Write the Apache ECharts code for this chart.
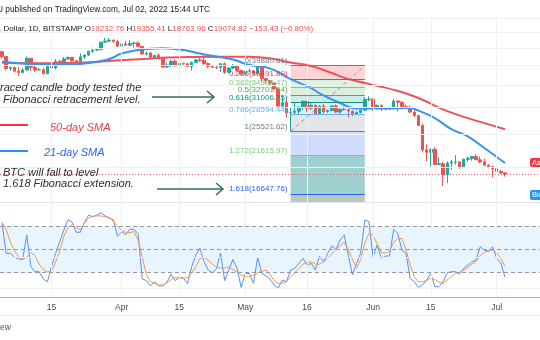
<!DOCTYPE html>
<html><head><meta charset="utf-8">
<script src="https://cdn.jsdelivr.net/npm/echarts@6/dist/echarts.min.js"></script>
<style>html,body{margin:0;padding:0;background:#fff}#c{width:540px;height:340px}</style>
</head><body><div id="c"></div>
<script>
// ---------- data ----------
const startDate = '2022-03-03';
const categoryCount = 131;
const monthTicks = {12:'15',29:'Apr',43:'15',59:'May',74:'16',90:'Jun',104:'15',120:'Jul'};

const opens = [43900,42450,39140,39400,38420,38060,38740,41940,39440,38730,
38810,37790,39670,39290,41120,40920,41760,42220,41260,41000,
42360,42890,43960,44350,44500,46820,47130,47460,47060,45530,
46280,45860,46410,46580,45500,43170,43440,42280,42780,42160,
39530,40070,41150,39940,40550,40400,39700,40800,41500,41370,
40480,39710,39470,39450,40440,38120,39240,39740,38600,37650,
38470,38530,37750,39700,36550,36030,35470,34060,30320,31020,
28940,29030,29280,30100,31300,29860,30430,28720,30310,29200,
29430,30320,29100,29650,29560,29270,28630,29030,29470,31720,
31790,29800,30450,29700,29860,29900,31370,31120,30200,30110,
29090,28420,26560,22490,22130,22580,20380,20470,19000,20560,
20710,20720,19970,21100,21230,21500,21030,20730,20280,20100,
19780,19420,19232.76];
const closes = [42450,39140,39400,38420,38060,38740,41940,39440,38730,38810,
37790,39670,39290,41120,40920,41760,42220,41260,41000,42360,
42890,43960,44350,44500,46820,47130,47460,47060,45530,46280,
45860,46410,46580,45500,43170,43440,42280,42780,42160,39530,
40070,41150,39940,40550,40400,39700,40800,41500,41370,40480,
39710,39470,39450,40440,38120,39240,39740,38600,37650,38470,
38530,37750,39700,36550,36030,35470,34060,30320,31020,28940,
29030,29280,30100,31300,29860,30430,28720,30310,29200,29430,
30320,29100,29650,29560,29270,28630,29030,29470,31720,31790,
29800,30450,29700,29860,29900,31370,31120,30200,30110,29090,
28420,26560,22490,22130,22580,20380,20470,19000,20560,20710,
20720,19970,21100,21230,21500,21030,20730,20280,20100,19780,
19420,19232.76,19074.82];
const highs = [44100,42500,39600,39650,39500,39300,42500,42000,40200,39400,
39300,39900,39850,41700,41450,42300,42400,42300,41500,43350,
43000,44200,45100,44800,46900,48200,48100,47700,47600,46700,
47200,47400,46900,47100,45500,43900,43950,42800,43400,42400,
40700,41550,41550,40850,40700,40600,41000,41700,42200,42900,
40800,39950,39900,40600,40800,39450,40350,39900,38800,38700,
39100,38650,40000,39800,36650,36150,35500,34250,32600,32100,
30000,31000,30300,31400,31300,31000,30700,30500,30700,29600,
30450,30650,29800,30200,29850,29400,29200,29550,32200,32400,
31950,30650,30650,29950,30150,31750,31550,31300,30650,30350,
29450,28550,26900,23350,22700,22950,21350,20750,20800,21000,
21700,20850,21200,21500,21600,21850,21500,21200,20400,20150,
20900,19600,19355.41];
const lows = [41850,38600,38600,38100,37200,37900,38650,38550,38250,38700,
37600,37600,38150,38900,40500,40150,41500,40950,40500,40900,
41800,42600,43600,44100,44400,46700,46950,46600,45300,44300,
45700,45600,45200,45400,43100,42750,42100,42150,41900,39250,
39250,39600,39600,39800,40050,39600,38600,40600,40900,39800,
39200,39300,39000,38200,37750,37900,38900,38200,37600,37400,
38100,37550,37700,35600,35300,34800,33750,30100,29800,28000,
25450,28700,28700,29500,29150,29500,28700,28650,28750,28950,
29250,28900,28650,29350,28050,28300,28500,28800,29300,31250,
29350,29600,29300,29500,29500,29900,29250,29850,29950,28900,
28150,26500,22100,20850,20100,20250,20250,17600,17950,19650,
20350,19800,19900,20750,20900,21000,20550,20200,19850,18650,
19000,19150,18763.96];

// moving averages: [bar index, price]
const sma50 = [[0,40700],[8,40560],[15,40620],[24,41040],[32,41600],[39,42080],[46,42310],[53,42400],[60,42400],[66,41740],[70,40760],[75,39800],[80,37950],[84,36430],[92,34580],[96,33580],[101,32020],[108,29280],[116,27220],[122,25900]];
const sma21 = [[0,40980],[5,40480],[11,40070],[17,40210],[22,40760],[26,41740],[29,43330],[33,44375],[36,44800],[39,44890],[44,44375],[48,43330],[52,42456],[56,41600],[60,40070],[65,39180],[70,36430],[75,34260],[77,33060],[82,30950],[86,29790],[89,29790],[94,29830],[99,29890],[101,29380],[105,27920],[109,25900],[113,24645],[117,22790],[122,20580]];

const stochK = [83.5,45,45,40,37.6,37,68.5,27.7,21.3,21.3,12,8.4,28,45,60,75,88,85,72,72,
85,94,92,94,97,93,90,88,67,72.7,69,75.8,75.8,70,12,10,3,8.4,3,3,
8,18,10,14,13,6,27.7,42.7,51.4,34,23.5,20,25,45,10,23.5,37,25.6,1.2,19,
19,6.4,39.8,19.2,15.8,12,4.2,0,10.6,8.4,23.5,25.6,32,38.5,30,32,23.5,41.5,34,45,
54.3,50,62,68.5,42.7,17,32,45,87.7,85.6,40.6,55.6,38.5,41.5,41.5,75.8,70.6,49,45,12.8,
8.4,1.2,4.2,10.6,19.2,2,2,8.4,20,21.3,21.3,18.3,25.6,30,34,36.3,53.4,49,47,53.4,
38.5,33,14];
const stochD = [85,75,60,48,41,37,40,46,42,31,24,21,22,34,48,67,78,82,78,75,
84,90,92.5,93,93,92,91,86,80,74,72,71.4,73,62,40,18,8.4,6,4.2,4.2,
7,11,14,13,13,14,20,28,38,40,36,31,27,26,26,27.5,24,21,17,15,
15,17,20,22,23.5,18,10,6,7,8.4,14.9,20,25,31,33,34,31,31,34,39,
44,50,55,59,50,37,26,37,58,70.6,68,57,46,45,48,59,64,64,49,30,
15,8.4,8.4,10,12.8,11,8,6,11,15,19,20.5,23,27,31,34.5,42,46,49,49,
46,39,28];

const fibLevels = [0,0.236,0.382,0.5,0.618,0.786,1,1.272,1.618];
const fibPrices = [39880.61,36491.89,34395.47,32701.54,31006.75,28594.44,25521.62,21615.97,16647.76];
const fibBeyond = 2288.77; // 2.618 level (off the pane)
const fibStart = 70, fibEnd = 88;
const priceGrid = [55000,50000,45000,40000,35000,30000,25000,20000];
const lastPrice = 19074.82;

// ---------- build ----------
const dates = [];
{ const d0 = new Date(startDate + 'T00:00:00Z');
  for (let i = 0; i < categoryCount; i++) { const d = new Date(d0.getTime() + i*86400000); dates.push(d.toISOString().slice(0,10)); } }
const candles = opens.map((o,i)=>[o, closes[i], lows[i], highs[i]]);
const kData = stochK.map((v,i)=>[i,v]);
const dData = stochD.map((v,i)=>[i,v]);

const Y_MIN = 15780, Y_MAX = 55560;
const fibLineColors = ['#787b86','#f23645','#81c784','#4caf50','#089981','#64b5f6','#787b86','#81c784','#2962ff'];
const fibZoneColors = ['rgba(242,54,69,0.22)','rgba(129,199,132,0.25)','rgba(76,175,80,0.2)','rgba(8,153,129,0.2)','rgba(100,181,246,0.2)','rgba(120,123,134,0.2)','rgba(41,98,255,0.22)','rgb(160,207,208)','rgb(186,202,186)'];
const fibBounds = fibPrices.concat([fibBeyond]);
const fibAreas = [];
for (let i = 0; i < fibBounds.length - 1; i++) {
  fibAreas.push([{xAxis: fibStart, yAxis: fibBounds[i], itemStyle:{color: fibZoneColors[i]}}, {xAxis: fibEnd, yAxis: Math.max(fibBounds[i+1], Y_MIN)}]);
}
const fibLines = fibPrices.map((p,i)=>[{coord:[fibStart,p], lineStyle:{color:fibLineColors[i], width:1, type:'solid'}},{coord:[fibEnd,p]}]);

const gridColor = '#eef1f6';
const vLines = Object.keys(monthTicks).map(k=>({xAxis: +k}));
const FONT = 'Liberation Sans, Arial, sans-serif';

const chart = echarts.init(document.getElementById('c'), null, {renderer:'canvas'});
const option = {
  animation: false,
  backgroundColor: '#ffffff',
  grid: [
    {left: -4, top: 17, width: 546, height: 185},
    {left: -4, top: 203, width: 546, height: 94}
  ],
  xAxis: [
    {type:'category', gridIndex:0, data: dates, boundaryGap:true, axisLine:{show:false}, axisTick:{show:false}, axisLabel:{show:false}, splitLine:{show:false}},
    {type:'category', gridIndex:1, data: dates, boundaryGap:true,
      axisLine:{show:true, onZero:false, lineStyle:{color:'#b2b5be', width:1}}, axisTick:{show:false},
      axisLabel:{interval:(i)=>monthTicks[i]!==undefined, formatter:(v,i)=>monthTicks[i]||'', fontSize:8.5, color:'#4a4a4a', margin:6, fontFamily:FONT},
      splitLine:{show:false}}
  ],
  yAxis: [
    {type:'log', gridIndex:0, min:Y_MIN, max:Y_MAX, show:false},
    {type:'value', gridIndex:1, min:-11.2, max:109.6, show:false}
  ],
  series: [
    { type:'line', xAxisIndex:0, yAxisIndex:0, data:[], z:0, silent:true,
      markLine:{silent:true, symbol:['none','none'], label:{show:false}, animation:false,
        lineStyle:{color:gridColor, width:1, type:'solid'},
        data: vLines.concat(priceGrid.map(p=>({yAxis:p})))},
      markArea:{silent:true, animation:false, data: fibAreas}
    },
    { type:'line', xAxisIndex:0, yAxisIndex:0, data:[], z:1, silent:true,
      markLine:{silent:true, symbol:['none','none'], label:{show:false}, animation:false,
        data: fibLines.concat([
          [{coord:[fibStart,fibPrices[6]], lineStyle:{color:'#9598a1', width:1, type:[4,3]}},{coord:[fibEnd,fibPrices[0]]}],
          {yAxis:lastPrice, lineStyle:{color:'#f23645', width:1, type:[1,2], opacity:0.8}}
        ])}
    },
    { type:'candlestick', xAxisIndex:0, yAxisIndex:0, data:candles, barWidth:3, z:3,
      itemStyle:{color:'#26a69a', color0:'#ef5350', borderColor:'#26a69a', borderColor0:'#ef5350', borderWidth:1} },
    { type:'line', xAxisIndex:0, yAxisIndex:0, data:sma50, smooth:0.4, showSymbol:false, z:4,
      lineStyle:{color:'#f0505e', width:2} },
    { type:'line', xAxisIndex:0, yAxisIndex:0, data:sma21, smooth:0.4, showSymbol:false, z:4,
      lineStyle:{color:'#3a93f0', width:2} },
    { type:'line', xAxisIndex:1, yAxisIndex:1, data:[], z:0, silent:true,
      markArea:{silent:true, animation:false, itemStyle:{color:'rgba(33,150,243,0.1)'}, data:[[{yAxis:20},{yAxis:80}]]},
      markLine:{silent:true, symbol:['none','none'], label:{show:false}, animation:false,
        data:vLines.concat([
          {yAxis:0},{yAxis:40},
          {yAxis:80, lineStyle:{color:'#9598a1', type:[4,3]}},
          {yAxis:50, lineStyle:{color:'#9598a1', type:[4,3]}},
          {yAxis:20, lineStyle:{color:'#9598a1', type:[4,3]}}
        ]),
        lineStyle:{color:gridColor, width:1, type:'solid'}}
    },
    { type:'line', xAxisIndex:1, yAxisIndex:1, data:kData, showSymbol:false, z:3, lineStyle:{color:'#5b8ff5', width:1} },
    { type:'line', xAxisIndex:1, yAxisIndex:1, data:dData, showSymbol:false, z:3, lineStyle:{color:'#f5984a', width:1} }
  ]
};
chart.setOption(option);

// ---------- annotations ----------
const g = [];
const txt = (x,y,text,fill,size,italic)=>g.push({type:'text', x, y, silent:true, z:100,
  style:{text, fill, font:(italic?'italic ':'')+size+'px '+FONT, textVerticalAlign:'middle', textAlign:'left'}});
const line = (pts,stroke,w)=>g.push({type:'polyline', silent:true, z:100, shape:{points:pts}, style:{stroke, lineWidth:w, fill:null}});

g.push({type:'rect', silent:true, z:99, shape:{x:0,y:0,width:540,height:16}, style:{fill:'#fff'}});
txt(-3,10,'U published on TradingView.com, Jul 02, 2022 15:44 UTC','#131722',8.3);
g.push({type:'text', x:-1, y:29, z:100, silent:true, style:{
  text:'{k|. Dollar, 1D, BITSTAMP} {k|O}{v|19232.76} {k|H}{v|19355.41} {k|L}{v|18763.96} {k|C}{v|19074.82} {v|\u2212153.43 (\u22120.80%)}',
  font:'8px '+FONT, textVerticalAlign:'middle', rich:{k:{fill:'#131722', font:'8px '+FONT}, v:{fill:'#ef5350', font:'8px '+FONT}}}});

// separators
line([[0,202.5],[540,202.5]],'#e0e3eb',1);
line([[0,315.5],[540,315.5]],'#eef0f4',1);
txt(0,328,'ew','#555',8.5);

// fib labels placed from the axis
fibPrices.forEach((p,i)=>{
  const pt = chart.convertToPixel({xAxisIndex:0, yAxisIndex:0}, [fibStart, p]);
  g.push({type:'text', x: pt[0]-3, y: pt[1]-1, z:100, silent:true, style:{text: fibLevels[i]+'('+p.toFixed(2)+')', fill: fibLineColors[i], font:'8px '+FONT, textAlign:'right', textVerticalAlign:'bottom'}});
});

// annotation text
const ANN = '#2a2e39';
txt(0,88,'raced candle body tested the',ANN,11,true);
txt(3,100,'Fibonacci retracement level.',ANN,11,true);
const arrowC = '#2f6f5f';
line([[152,97],[213,97]],arrowC,1.5); line([[207,91],[214,97],[207,103]],arrowC,1.5);
line([[0,125],[28,125]],'#f23645',2);
txt(50,128,'50-day SMA','#f23645',11,true);
line([[0,151],[28,151]],'#2196f3',2);
txt(44,153,'21-day SMA','#2962ff',11,true);
txt(3,173,'BTC will fall to level',ANN,11,true);
txt(3,184,'1.618 Fibonacci extension.',ANN,11,true);
line([[157,189],[222,189]],arrowC,1.5); line([[216,183],[223,189],[216,195]],arrowC,1.5);

// price scale tags at the cut edge
g.push({type:'rect', silent:true, z:100, shape:{x:530,y:158,width:14,height:9, r:2}, style:{fill:'#f23645'}});
txt(532,162.5,'Ask','#fff',7.5);
g.push({type:'rect', silent:true, z:100, shape:{x:530,y:190,width:14,height:10, r:2}, style:{fill:'#2196f3'}});
txt(532,195,'Bid','#fff',7.5);

chart.setOption({graphic: g});
</script></body></html>
